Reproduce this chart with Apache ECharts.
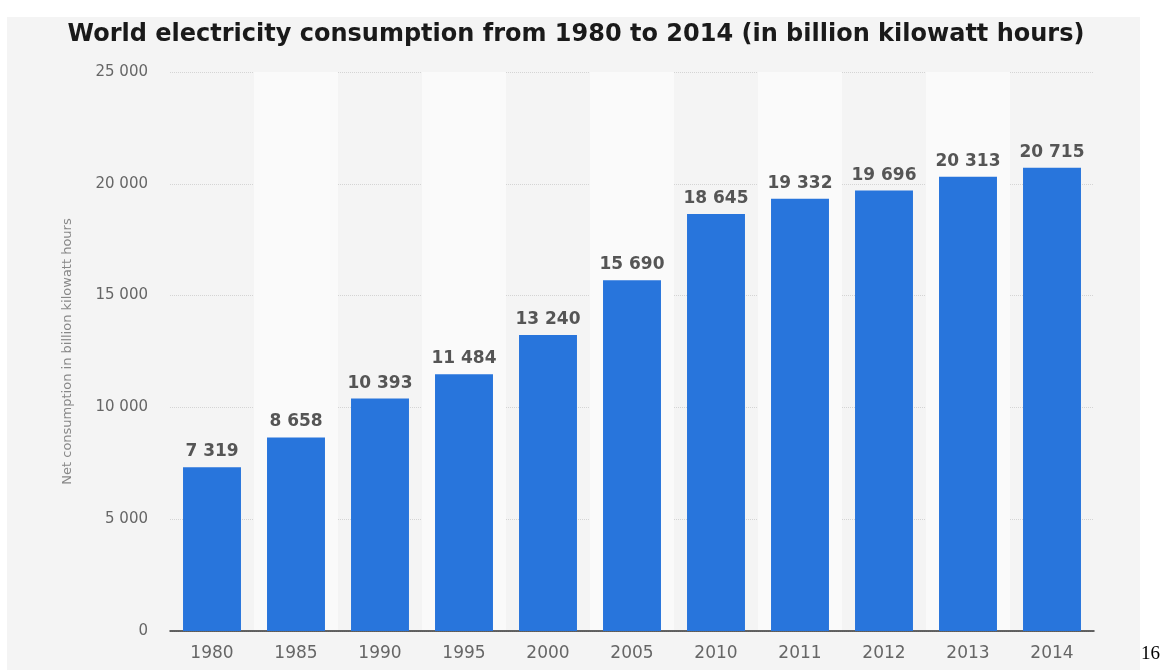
<!DOCTYPE html>
<html>
<head>
<meta charset="utf-8">
<script src="https://cdn.jsdelivr.net/npm/echarts@6/dist/echarts.min.js"></script>
<style>
  html, body { margin: 0; padding: 0; background: #fff; }
  #chart { width: 1162px; height: 670px; }
</style>
</head>
<body>
<div id="chart"></div>
<script>
const years = ["1980", "1985", "1990", "1995", "2000", "2005", "2010", "2011", "2012", "2013", "2014"];
const consumption = [7319, 8658, 10393, 11484, 13240, 15690, 18645, 19332, 19696, 20313, 20715];

const fmt = v => String(v).replace(/\B(?=(\d{3})+(?!\d))/g, " ");

const chart = echarts.init(document.getElementById("chart"));

const option = {
	backgroundColor: "#fff",
	animation: false,
	graphic: [
		{
			type: "rect",
			z: -10,
			shape: { x: 7, y: 17, width: 1133, height: 660 },
			style: { fill: "#f4f4f4" }
		},
		{
			type: "text",
			left: 1141,
			top: 645,
			style: { text: "16", font: "19px 'Liberation Serif'", fill: "#000" }
		}
	],
	title: {
		text: "World electricity consumption from 1980 to 2014 (in billion kilowatt hours)",
		left: 571,
		textAlign: "center",
		top: 18,
		textStyle: {
			fontFamily: "DejaVu Sans",
			fontWeight: "bold",
			fontSize: 24,
			color: "#1a1a1a"
		}
	},
	grid: { left: 170, right: 68, top: 72, bottom: 39 },
	xAxis: {
		type: "category",
		data: years,
		axisLine: { lineStyle: { color: "#333", width: 1.5 } },
		axisTick: { show: false },
		axisLabel: { color: "#666", fontSize: 17, fontFamily: "DejaVu Sans", margin: 14 },
		splitArea: {
			show: true,
			areaStyle: { color: ["rgba(0,0,0,0)", "#fafafa"] }
		}
	},
	yAxis: {
		type: "value",
		min: 0,
		max: 25000,
		interval: 5000,
		name: "Net consumption in billion kilowatt hours",
		nameLocation: "middle",
		nameGap: 96,
		nameTextStyle: { color: "#888", fontSize: 13, fontFamily: "DejaVu Sans" },
		axisLine: { show: false },
		axisTick: { show: false },
		axisLabel: { color: "#666", fontSize: 15, fontFamily: "DejaVu Sans", margin: 22, formatter: fmt },
		splitLine: { lineStyle: { color: "#d4d4d4", type: "dotted" } }
	},
	series: [{
		type: "bar",
		data: consumption,
		barWidth: "69%",
		itemStyle: { color: "#2875dc" },
		label: {
			show: true,
			position: "top",
			distance: 7,
			color: "#555",
			fontWeight: "bold",
			fontSize: 17,
			fontFamily: "DejaVu Sans",
			formatter: p => fmt(p.value)
		}
	}]
};

chart.setOption(option);
window.onresize = chart.resize;
</script>
</body>
</html>
